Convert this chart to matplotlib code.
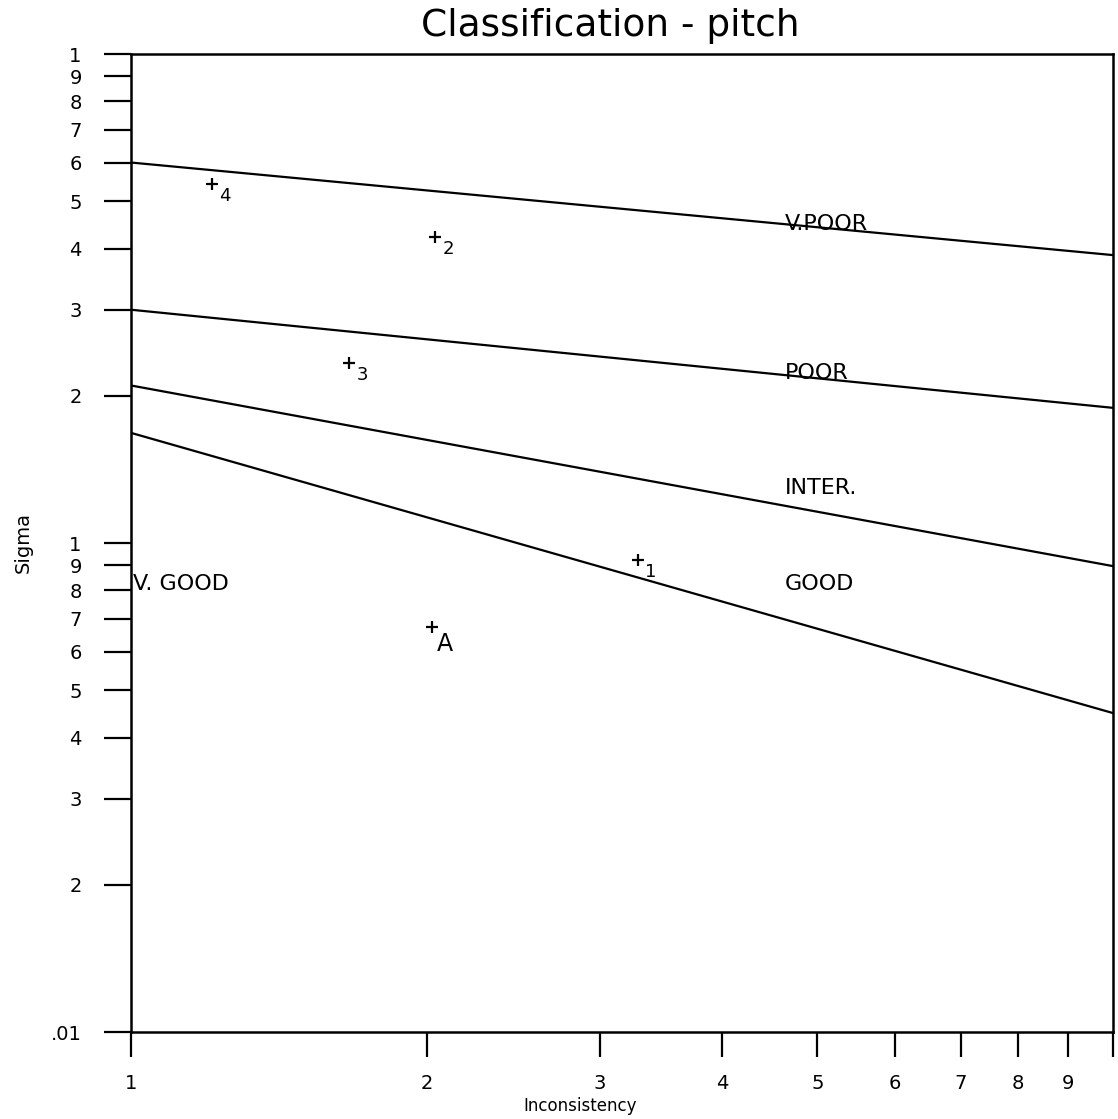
import matplotlib
matplotlib.use("Agg")
import matplotlib.pyplot as plt

# Class boundary lines (sigma at inconsistency = 1 and = 10)
line_x = [1, 10]
vpoor_line = [0.60, 0.388]
poor_line = [0.30, 0.189]
inter_line = [0.21, 0.0897]
good_line = [0.168, 0.0449]

# Measured points
pt_names = ['4', '2', '3', '1', 'A']
pt_x = [1.209, 2.04, 1.667, 3.28, 2.025]
pt_y = [0.542, 0.423, 0.233, 0.0923, 0.0673]

# Class labels
class_names = ['V.POOR', 'POOR', 'INTER.', 'GOOD', 'V. GOOD']
class_x = [4.63, 4.63, 4.63, 4.63, 1.005]
class_y = [0.449, 0.223, 0.1296, 0.0824, 0.0824]

# Axis ticks
x_ticks = [1, 2, 3, 4, 5, 6, 7, 8, 9, 10]
x_labels = ['1', '2', '3', '4', '5', '6', '7', '8', '9', '']
y_ticks = [0.01, 0.02, 0.03, 0.04, 0.05, 0.06, 0.07, 0.08, 0.09,
           0.1, 0.2, 0.3, 0.4, 0.5, 0.6, 0.7, 0.8, 0.9, 1.0]
y_labels = ['.01', '2', '3', '4', '5', '6', '7', '8', '9',
            '1', '2', '3', '4', '5', '6', '7', '8', '9', '1']

plt.rcParams['font.family'] = ['DejaVu Sans']

fig = plt.figure(figsize=(11.18, 11.19), dpi=100)
ax = fig.add_axes([0.1172, 0.0777, 0.8784, 0.874])

for ys in [vpoor_line, poor_line, inter_line, good_line]:
    ax.plot(line_x, ys, color='black', linewidth=1.6)

ax.plot(pt_x, pt_y, linestyle='none', marker='+', markersize=8,
        markeredgewidth=1.6, color='black')
for name, x, y in zip(pt_names, pt_x, pt_y):
    if name == 'A':
        ax.annotate(name, (x, y), xytext=(9.5, -12), textcoords='offset points',
                    ha='center', va='center', fontsize=17)
    else:
        ax.annotate(name, (x, y), xytext=(9.5, -8.5), textcoords='offset points',
                    ha='center', va='center', fontsize=13)

for name, x, y in zip(class_names, class_x, class_y):
    ax.text(x, y, name, ha='left', va='center', fontsize=16)

ax.set_xscale('log')
ax.set_yscale('log')
ax.set_xlim(1, 10)
ax.set_ylim(0.01, 1.0)
ax.set_xticks(x_ticks, x_labels)
ax.set_yticks(y_ticks, y_labels)
ax.minorticks_off()

ax.tick_params(axis='x', direction='out', length=18, width=1.6, pad=12, labelsize=14)
ax.tick_params(axis='y', direction='out', length=19.5, width=1.6, pad=16, labelsize=14)
for sp in ax.spines.values():
    sp.set_linewidth(1.8)

ax.set_xlabel('Inconsistency', fontsize=12)
ax.xaxis.set_label_coords(0.457, -0.066)
ax.set_ylabel('Sigma', fontsize=14)
ax.yaxis.set_label_coords(-0.0998, 0.501)

fig.text(610 / 1118, 1 - 26 / 1119, 'Classification - pitch',
         ha='center', va='center', fontsize=27)

fig.savefig('out.png', dpi=100)
